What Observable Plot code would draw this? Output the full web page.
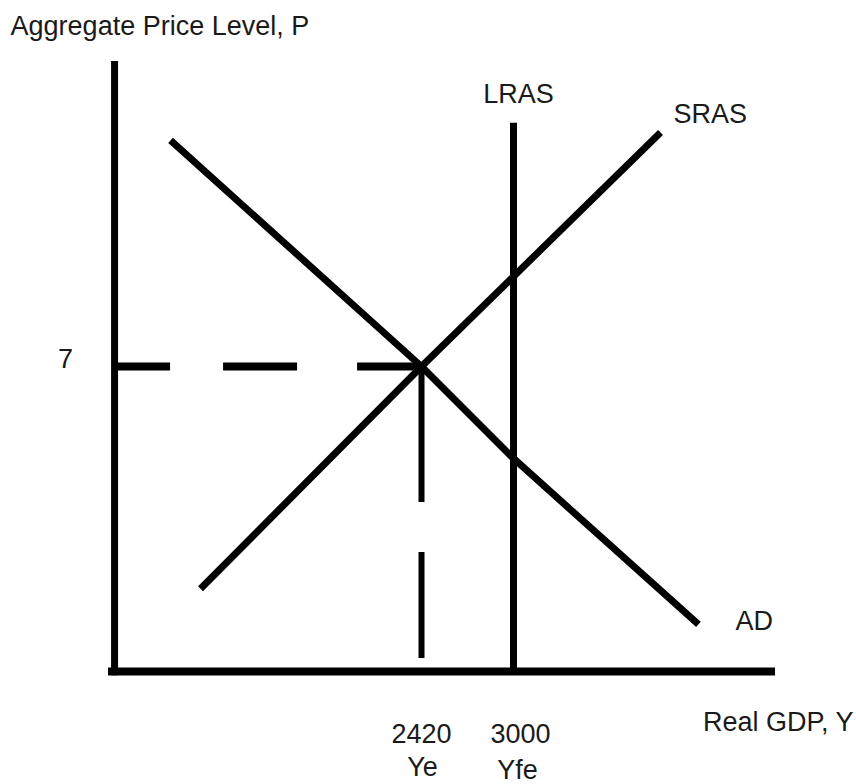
<!DOCTYPE html>
<html>
<head>
<meta charset="utf-8">
<script src="https://cdn.jsdelivr.net/npm/d3@7"></script>
<script src="https://cdn.jsdelivr.net/npm/@observablehq/plot@0.6"></script>
<style>
  body { margin: 0; background: #fff; }
  #chart svg { display: block; }
</style>
</head>
<body>
<div id="chart"></div>
<script>
// ---- data ----
const priceTicks = [7];                 // labelled price level
const gdpTicks = [2420, 3000];          // labelled real GDP values
const gdpTickNames = ["Ye", "Yfe"];     // names under the GDP values
const equilibrium = {Y: 2420, P: 7};
const fullEmploymentY = 3000;
const lrasTopP = 12.58;
const axisOriginY = 485;                // Y value where the price axis stands
const axisTopP = 14;
const axisStartY = 447;
const axisEndY = 4652;
const srasY = [1027, 2420, 3927];
const srasP = [1.9, 7, 12.37];
const adY = [838, 2420, 3000, 4166];
const adP = [12.19, 7, 4.89, 1.08];
const guideEndP = 0.3;

const sras = srasY.map((Y, i) => ({Y, P: srasP[i]}));
const ad = adY.map((Y, i) => ({Y, P: adP[i]}));

const font = "Liberation Sans, Arial, Helvetica, sans-serif";
const ink = "#000";
const textInk = "#1a1a1a";
const fs = 27;

const txt = (data, opts) => Plot.text(data, {fontSize: fs, fill: textInk, fontFamily: font, lineAnchor: "bottom", ...opts});

const chart = Plot.plot({
  width: 856,
  height: 784,
  margin: 0,
  style: {fontFamily: font, background: "#fff"},
  x: {domain: [2420, 3000], range: [421, 513], axis: null},
  y: {domain: [0, 7], range: [671, 366], axis: null},
  marks: [
    // axes
    Plot.ruleX([axisOriginY], {y1: -0.1, y2: axisTopP, stroke: ink, strokeWidth: 7}),
    Plot.ruleY([0], {x1: axisStartY, x2: axisEndY, stroke: ink, strokeWidth: 8}),
    // dashed guides to equilibrium
    Plot.ruleY([equilibrium.P], {x1: axisOriginY, x2: equilibrium.Y, stroke: ink, strokeWidth: 8, strokeDasharray: "56,53,74,60,70"}),
    Plot.ruleX([equilibrium.Y], {y1: equilibrium.P, y2: guideEndP, stroke: ink, strokeWidth: 6, strokeDasharray: "136,50,110,60"}),
    // LRAS
    Plot.ruleX([fullEmploymentY], {y1: 0, y2: lrasTopP, stroke: ink, strokeWidth: 7}),
    // SRAS and AD
    Plot.line(sras, {x: "Y", y: "P", stroke: ink, strokeWidth: 7, strokeLinecap: "butt"}),
    Plot.line(ad, {x: "Y", y: "P", stroke: ink, strokeWidth: 7, strokeLinecap: "butt"}),
    // labels
    txt(priceTicks, {x: axisOriginY, y: d => d, text: d => String(d), dx: -49, dy: 1, textAnchor: "middle"}),
    txt([gdpTicks[0]], {x: d => d, y: 0, text: d => String(d), dy: 71, textAnchor: "middle"}),
    txt([gdpTicks[1]], {x: d => d, y: 0, text: d => String(d), dx: 7, dy: 71, textAnchor: "middle"}),
    txt([gdpTickNames[0]], {x: gdpTicks[0], y: 0, text: d => d, dx: 1, dy: 104, textAnchor: "middle"}),
    txt([gdpTickNames[1]], {x: gdpTicks[1], y: 0, text: d => d, dx: 4, dy: 107, textAnchor: "middle"}),
    txt(["LRAS"], {x: fullEmploymentY, y: lrasTopP, text: d => d, dx: 5, dy: -20, textAnchor: "middle"}),
    txt(["SRAS"], {x: srasY[2], y: srasP[2], text: d => d, dx: 13, dy: -10, textAnchor: "start"}),
    txt(["AD"], {x: adY[3], y: adP[3], text: d => d, dx: 37, dy: 6, textAnchor: "start"}),
    txt(["Real GDP, Y"], {x: axisEndY, y: 0, text: d => d, dx: 78, dy: 59, textAnchor: "end"}),
    txt(["Aggregate Price Level, P"], {x: axisOriginY, y: axisTopP, text: d => d, dx: -104, dy: -27, textAnchor: "start"})
  ]
});
document.getElementById("chart").appendChild(chart);
</script>
</body>
</html>
